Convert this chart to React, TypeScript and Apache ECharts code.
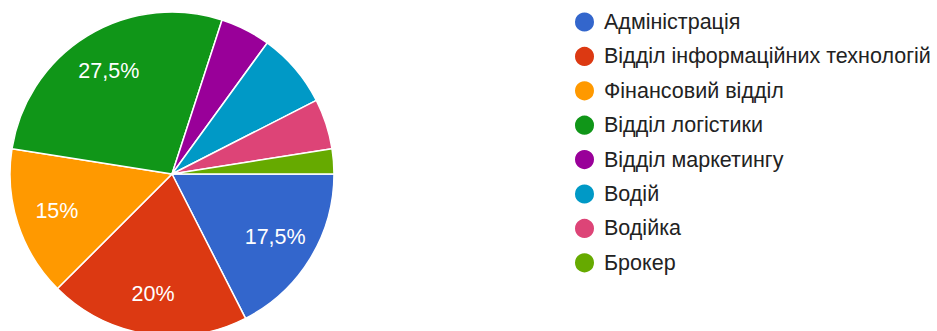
import React, { useEffect, useRef } from "react";
import * as echarts from "echarts";

const categories = [
  "Адміністрація",
  "Відділ інформаційних технологій",
  "Фінансовий відділ",
  "Відділ логістики",
  "Відділ маркетингу",
  "Водій",
  "Водійка",
  "Брокер",
];
const values = [17.5, 20, 15, 27.5, 5, 7.5, 5, 2.5];
const colors = ["#3366cc", "#dc3912", "#ff9900", "#109618", "#990099", "#0099c6", "#dd4477", "#66aa00"];
const labelMin = 10;

const FONT = "Arial, 'Liberation Sans', sans-serif";

export default function App() {
  const ref = useRef<HTMLDivElement>(null);
  useEffect(() => {
    if (!ref.current) return;
    const chart = echarts.init(ref.current, undefined, { renderer: "svg" });
    const fmt = (v: number) => String(v).replace(".", ",") + "%";
    chart.setOption({
      animation: false,
      color: colors,
      legend: {
        orient: "vertical",
        left: 568,
        top: 5.5,
        icon: "circle",
        itemWidth: 21,
        itemHeight: 21,
        itemGap: 11.4,
        selectedMode: false,
        data: categories,
        textStyle: {
          fontFamily: FONT,
          fontSize: 21.5,
          lineHeight: 21,
          color: "#222222",
          padding: [0, 0, 0, 4],
        },
      },
      series: [
        {
          type: "pie",
          center: [172, 174],
          radius: [0, 162],
          startAngle: 0,
          clockwise: true,
          silent: true,
          label: { show: false },
          labelLine: { show: false },
          itemStyle: { borderColor: "#ffffff", borderWidth: 1.5 },
          data: categories.map((n, i) => ({ name: n, value: values[i] })),
        },
        {
          type: "pie",
          center: [172, 174],
          radius: [0, 236],
          startAngle: 0,
          clockwise: true,
          silent: true,
          z: 5,
          legendHoverLink: false,
          itemStyle: { color: "rgba(0,0,0,0)" },
          labelLine: { show: false },
          label: {
            position: "inside",
            color: "#ffffff",
            fontFamily: FONT,
            fontSize: 21.5,
            formatter: (p: any) => fmt(p.value),
          },
          data: categories.map((n, i) => ({
            name: n + " ",
            value: values[i],
            label: { show: values[i] >= labelMin },
          })),
        },
      ],
    });
    return () => chart.dispose();
  }, []);
  return (
    <div
      ref={ref}
      style={{ position: "fixed", left: 0, top: 0, width: 937, height: 331, background: "#ffffff" }}
    />
  );
}
